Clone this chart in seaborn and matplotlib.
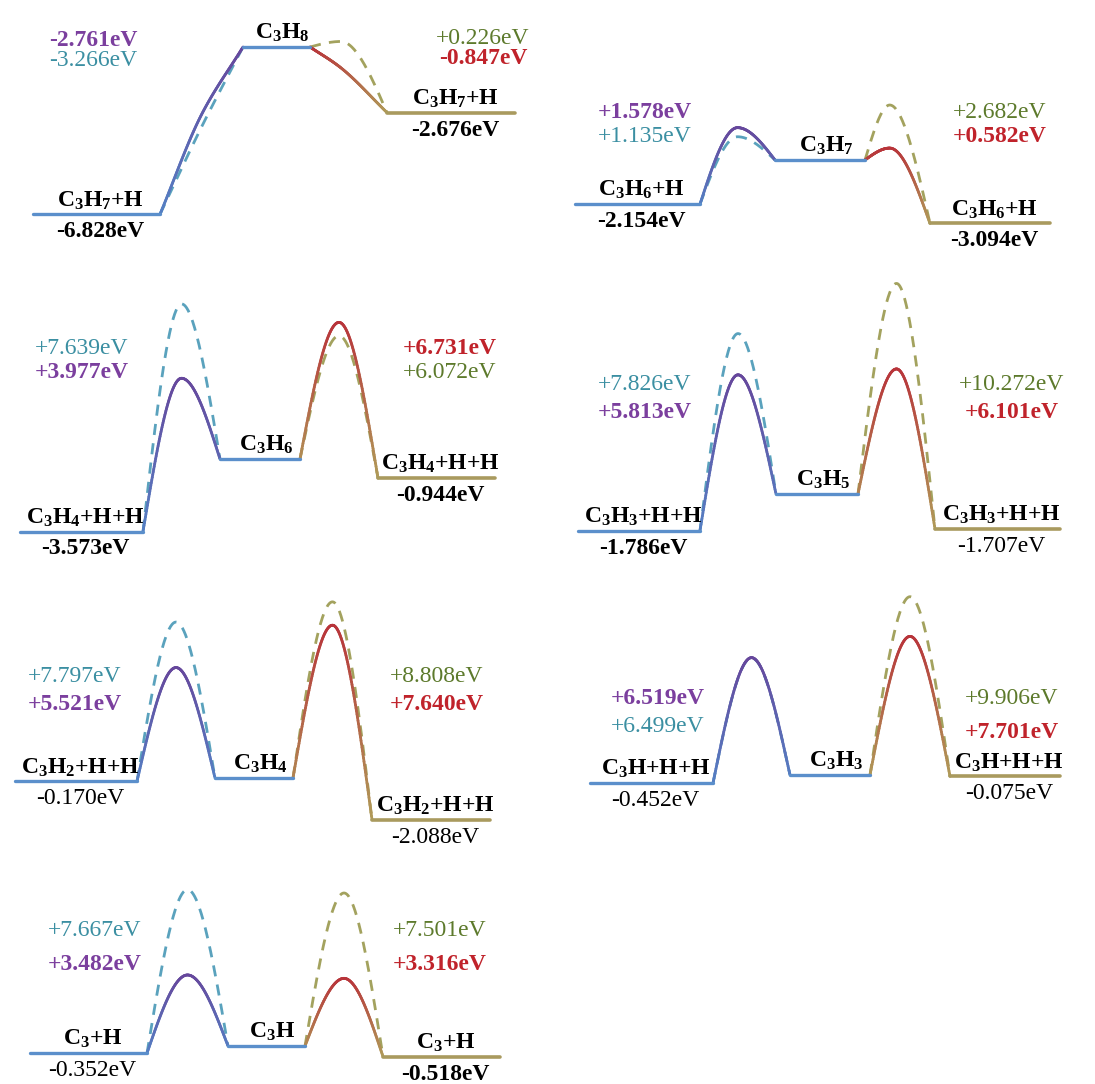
import numpy as np
import pandas as pd
import matplotlib
matplotlib.use("Agg")
import matplotlib.pyplot as plt
from matplotlib.collections import LineCollection
from matplotlib.colors import to_rgb
import seaborn as sns

sns.set_theme(style="white")
plt.rcParams["font.family"] = ["Liberation Serif", "DejaVu Serif"]
plt.rcParams["mathtext.fontset"] = "custom"
plt.rcParams["mathtext.rm"] = "Liberation Serif:bold"
plt.rcParams["mathtext.default"] = "rm"

# ---- data: one entry per dissociation step (energies in eV, intermediate = 0) ----
intermediates = ["C$_3$H$_8$", "C$_3$H$_7$", "C$_3$H$_6$", "C$_3$H$_5$",
                 "C$_3$H$_4$", "C$_3$H$_3$", "C$_3$H"]
products = ["C$_3$H$_7$+H", "C$_3$H$_6$+H", "C$_3$H$_4$+H+H", "C$_3$H$_3$+H+H",
            "C$_3$H$_2$+H+H", "C$_3$H+H+H", "C$_3$+H"]
left_energy = [-6.828, -2.154, -3.573, -1.786, -0.170, -0.452, -0.352]
right_energy = [-2.676, -3.094, -0.944, -1.707, -2.088, -0.075, -0.518]
left_ts_solid = [-2.761, 1.578, 3.977, 5.813, 5.521, 6.519, 3.482]
left_ts_dashed = [-3.266, 1.135, 7.639, 7.826, 7.797, 6.499, 7.667]
right_ts_solid = [-0.847, 0.582, 6.731, 6.101, 7.640, 7.701, 3.316]
right_ts_dashed = [0.226, 2.682, 6.072, 10.272, 8.808, 9.906, 7.501]

# ---- layout (figure pixels) ----
W, H = 1095, 1084
breaks = [
    [33, 160, 243, 310, 387, 515],
    [575, 700, 775, 865, 930, 1050],
    [20, 143, 220, 300, 378, 495],
    [578, 700, 776, 858, 935, 1060],
    [15, 137, 215, 293, 372, 490],
    [590, 713, 790, 870, 950, 1060],
    [30, 147, 228, 305, 383, 500],
]
zero_px = [47, 160, 459, 494, 778, 775, 1046]
px_per_ev = [24.5, 20.5, 20.3, 20.5, 20.0, 18.0, 20.4]
right_peak_frac = [0.4, 0.38, 0.5, 0.5, 0.5, 0.5, 0.5]
left_lbl_pos = [(93, 40, 60), (645, 113, 137), (82, 348, 372), (645, 385, 412),
                (75, 676, 705), (658, 698, 727), (95, 931, 964)]
right_lbl_pos = [(483, 38, 58), (1000, 113, 137), (450, 348, 372), (1012, 385, 412),
                 (437, 676, 705), (1012, 698, 732), (440, 931, 964)]
left_val_bold = [True, True, True, True, False, False, False]
right_val_bold = [True, True, True, False, False, False, True]

C_LEVEL = "#5b8fcb"
C_LEVEL_R = "#a99a5e"
C_SOLID_L_TOP = "#66479c"
C_SOLID_L_BASE = "#5580c4"
C_SOLID_R_TOP = "#b8343a"
C_SOLID_R_BASE = "#b09a58"
C_DASH_L = "#5aa2bd"
C_DASH_R = "#a3a25e"
T_PURPLE = "#7b3f9e"
T_TEAL = "#3b8fa2"
T_OLIVE = "#5d7a2c"
T_RED = "#c0232b"
FS = 17


def barrier_path(xa, xb, ea, ets, eb, frac, n=80):
    """Cubic Hermite curve from (xa, ea) through the TS to (xb, eb)."""
    xm = xa + frac * (xb - xa)
    s1 = (ets - ea) / (xm - xa)
    s2 = (eb - ets) / (xb - xm)
    if s1 * s2 > 0:
        mm = 2.0 / (1.0 / s1 + 1.0 / s2)
        ma, mb = s1, s2
    else:
        mm = 0.0
        ma, mb = 1.5 * s1, 1.5 * s2

    def herm(x0, x1, y0, y1, m0, m1, k):
        t = np.linspace(0, 1, k)
        h = x1 - x0
        h00 = 2 * t**3 - 3 * t**2 + 1
        h10 = t**3 - 2 * t**2 + t
        h01 = -2 * t**3 + 3 * t**2
        h11 = t**3 - t**2
        return x0 + h * t, h00 * y0 + h10 * h * m0 + h01 * y1 + h11 * h * m1

    xa_, ya_ = herm(xa, xm, ea, ets, ma, mm, n)
    xb_, yb_ = herm(xm, xb, ets, eb, mm, mb, n)
    return pd.DataFrame({"x": np.r_[xa_, xb_[1:]], "E": np.r_[ya_, yb_[1:]]})


def draw_line(ax, df, color, lw=2.0, dashed=False):
    kw = dict(linestyle=(0, (4, 3)) if dashed else "-")
    sns.lineplot(data=df, x="x", y="E", ax=ax, color=color, lw=lw,
                 sort=False, estimator=None, **kw)


def draw_gradient(ax, df, base, top, lw=2.0):
    """Solid path shaded from the base colour (low) to the top colour (high)."""
    x, e = df["x"].to_numpy(), df["E"].to_numpy()
    pts = np.column_stack([x, e]).reshape(-1, 1, 2)
    segs = np.concatenate([pts[:-1], pts[1:]], axis=1)
    em = 0.5 * (e[:-1] + e[1:])
    f = (em - e.min()) / max(e.max() - e.min(), 1e-9)
    c0, c1 = np.array(to_rgb(base)), np.array(to_rgb(top))
    cols = c0[None, :] * (1 - f[:, None]) + c1[None, :] * f[:, None]
    lc = LineCollection(segs, colors=cols, linewidths=lw, capstyle="round")
    ax.add_collection(lc)


fig = plt.figure(figsize=(W / 100, H / 100), dpi=100)

for i in range(len(products)):
    x0, x1, x2, x3, x4, x5 = breaks[i]
    ax = fig.add_axes([0, 0, 1, 1])
    ax.set_xlim(0, W)
    ax.set_ylim(-(H - zero_px[i]) / px_per_ev[i], zero_px[i] / px_per_ev[i])
    ax.axis("off")
    ax.patch.set_alpha(0)

    el, er = left_energy[i], right_energy[i]

    # transition-state paths
    draw_line(ax, barrier_path(x1, x2, el, left_ts_dashed[i], 0.0, 0.5), C_DASH_L, dashed=True)
    draw_line(ax, barrier_path(x3, x4, 0.0, right_ts_dashed[i], er, right_peak_frac[i]), C_DASH_R, dashed=True)
    draw_gradient(ax, barrier_path(x1, x2, el, left_ts_solid[i], 0.0, 0.5),
                  C_SOLID_L_BASE, C_SOLID_L_TOP)
    draw_gradient(ax, barrier_path(x3, x4, 0.0, right_ts_solid[i], er, right_peak_frac[i]),
                  C_SOLID_R_BASE, C_SOLID_R_TOP)

    # energy levels
    draw_line(ax, pd.DataFrame({"x": [x0, x1], "E": [el, el]}), C_LEVEL, lw=2.4)
    draw_line(ax, pd.DataFrame({"x": [x2, x3], "E": [0.0, 0.0]}), C_LEVEL, lw=2.4)
    draw_line(ax, pd.DataFrame({"x": [x4, x5], "E": [er, er]}), C_LEVEL_R, lw=2.6)

    # species and level energies
    for xa, xb, e, name, bold in [(x0, x1, el, products[i], left_val_bold[i]),
                                  (x4, x5, er, products[i], right_val_bold[i])]:
        xc = (xa + xb) / 2 + 4
        ax.annotate(name, (xc, e), xytext=(0, 2), textcoords="offset points",
                    ha="center", va="bottom", fontsize=FS, fontweight="bold", color="black")
        ax.annotate(f"{e:.3f}eV", (xc, e), xytext=(0, -5), textcoords="offset points",
                    ha="center", va="top", fontsize=FS,
                    fontweight="bold" if bold else "normal", color="black")
    ax.annotate(intermediates[i], ((x2 + x3) / 2 + 6, 0.0), xytext=(0, 2),
                textcoords="offset points", ha="center", va="bottom",
                fontsize=FS, fontweight="bold", color="black")

    # barrier labels (higher value on top)
    pairs_l = sorted([(left_ts_solid[i], T_PURPLE, "bold"), (left_ts_dashed[i], T_TEAL, "normal")],
                     key=lambda p: -p[0])
    pairs_r = sorted([(right_ts_solid[i], T_RED, "bold"), (right_ts_dashed[i], T_OLIVE, "normal")],
                     key=lambda p: -p[0])
    for (xp, ya, yb), pairs in [(left_lbl_pos[i], pairs_l), (right_lbl_pos[i], pairs_r)]:
        for (v, c, wgt), yp in zip(pairs, (ya, yb)):
            fig.text(xp / W, 1 - yp / H, f"{v:+.3f}eV", ha="center", va="center",
                     fontsize=FS, color=c, fontweight=wgt)

fig.savefig("out.png", dpi=100, facecolor="white")
